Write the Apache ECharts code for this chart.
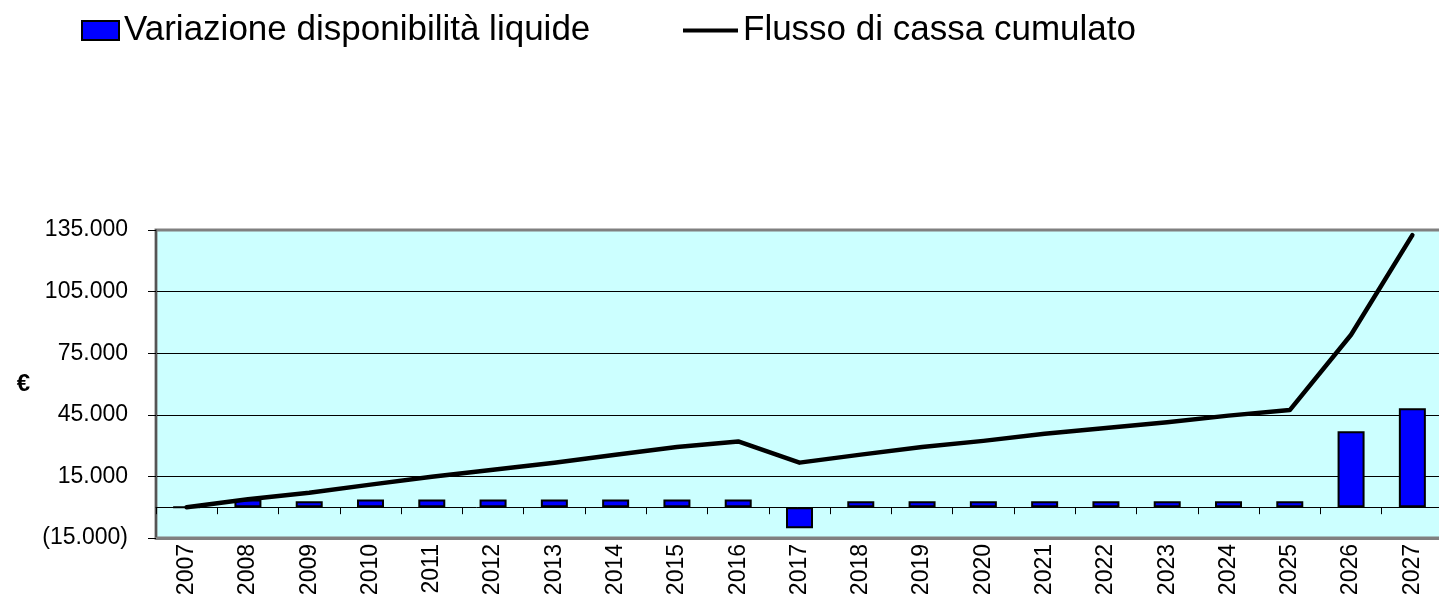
<!DOCTYPE html>
<html>
<head>
<meta charset="utf-8">
<script src="https://cdn.jsdelivr.net/npm/echarts@6/dist/echarts.min.js"></script>
<style>
  html, body { margin: 0; padding: 0; background: #fff; }
  #chart { width: 1439px; height: 595px; }
</style>
</head>
<body>
<div id="chart"></div>
<script>
// anni sull'asse x
var anni = ['2007','2008','2009','2010','2011','2012','2013','2014','2015','2016','2017',
            '2018','2019','2020','2021','2022','2023','2024','2025','2026','2027'];
// variazione disponibilità liquide (barre)
var variazione = [0, 3800, 2900, 3800, 3800, 3800, 3800, 3800, 3800, 3800, -10200,
                  2900, 2900, 2900, 2900, 2900, 2900, 2900, 2900, 37000, 48200];
// flusso di cassa cumulato (linea)
var flusso = [0, 3900, 7000, 11000, 14800, 18200, 21600, 25500, 29300, 32000, 21700,
              25600, 29300, 32300, 35800, 38600, 41400, 44600, 47300, 84000, 132500];

var FONT = '"Liberation Sans", Arial, sans-serif';

function formatEuro(v) {
  var s = String(Math.abs(v)).replace(/\B(?=(\d{3})+(?!\d))/g, '.');
  return v < 0 ? '(' + s + ')' : s;
}

var myChart = echarts.init(document.getElementById('chart'));

var option = {
  animation: false,
  textStyle: { fontFamily: FONT, color: '#000' },
  legend: [
    {
      data: [{ name: 'Variazione disponibilità liquide', icon: 'rect' }],
      left: 76, top: 8,
      itemWidth: 37, itemHeight: 19,
      textStyle: { fontSize: 35, fontFamily: FONT, color: '#000' }
    },
    {
      data: [{ name: 'Flusso di cassa cumulato', icon: 'rect' }],
      left: 678, top: 8,
      itemWidth: 55, itemHeight: 4,
      textStyle: { fontSize: 35, fontFamily: FONT, color: '#000' }
    }
  ],
  grid: {
    left: 156, right: -4, top: 230, bottom: 57,
    outerBoundsMode: 'none',
    show: true,
    backgroundColor: '#CCFFFF',
    borderColor: '#808080',
    borderWidth: 3
  },
  xAxis: [
    {
      type: 'category',
      data: anni,
      axisLine: { onZero: true, lineStyle: { color: '#000', width: 1 } },
      axisTick: { show: true, length: 7, lineStyle: { color: '#000' } },
      axisLabel: { show: false }
    },
    {
      type: 'category',
      data: anni,
      position: 'bottom',
      axisLine: { onZero: false, lineStyle: { color: '#808080', width: 3 } },
      axisTick: { show: false },
      axisLabel: { rotate: 90, margin: 6, fontSize: 23, fontFamily: FONT, color: '#000' }
    }
  ],
  yAxis: {
    type: 'value',
    min: -15000, max: 135000, interval: 30000,
    name: '€',
    nameLocation: 'middle',
    nameRotate: 0,
    nameGap: 126,
    nameTextStyle: { fontSize: 24, fontWeight: 'bold', fontFamily: FONT, color: '#000' },
    axisLine: { show: true, lineStyle: { color: '#555', width: 2 } },
    axisTick: { show: true, length: 8, lineStyle: { color: '#000' } },
    axisLabel: { margin: 28, fontSize: 23, fontFamily: FONT, color: '#000', formatter: formatEuro },
    splitLine: {
      show: true,
      lineStyle: { color: ['#808080', '#000', '#000', '#000', '#000', '#808080'], width: 1 }
    }
  },
  series: [
    {
      name: 'Variazione disponibilità liquide',
      type: 'bar',
      data: variazione,
      barWidth: 27,
      itemStyle: { color: '#0000FF', borderColor: '#000', borderWidth: 2 }
    },
    {
      name: 'Flusso di cassa cumulato',
      type: 'line',
      data: flusso,
      symbol: 'none',
      lineStyle: { color: '#000', width: 4.5, cap: 'round', join: 'round' },
      itemStyle: { color: '#000' },
      z: 5
    }
  ]
};

myChart.setOption(option);
</script>
</body>
</html>
